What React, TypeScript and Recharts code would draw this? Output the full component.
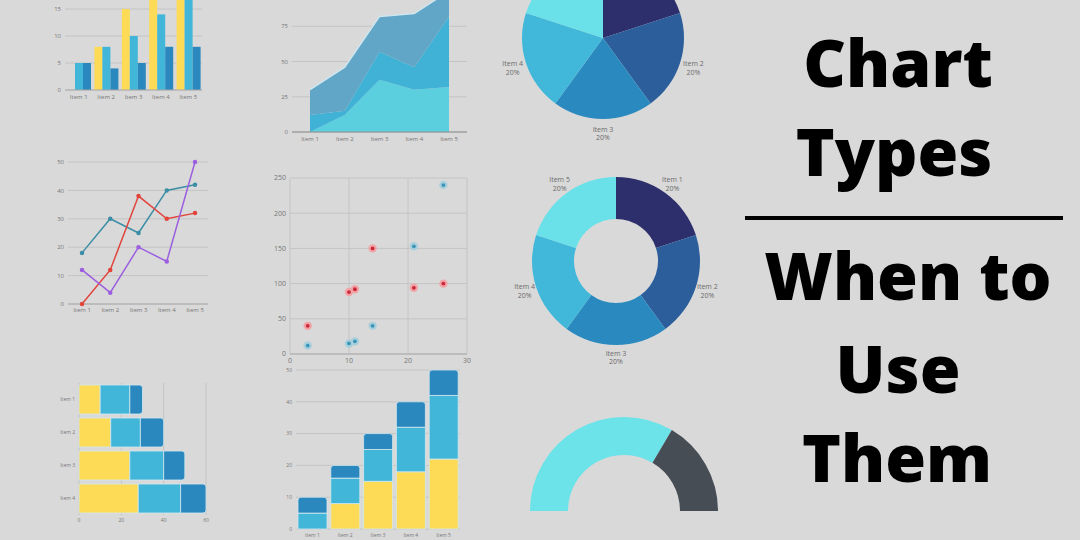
import {
  Area,
  AreaChart,
  Bar,
  BarChart,
  CartesianGrid,
  Cell,
  Line,
  LineChart,
  Pie,
  PieChart,
  Scatter,
  ScatterChart,
  XAxis,
  YAxis,
} from "recharts";

// shared categories
const items = ["Item 1", "Item 2", "Item 3", "Item 4", "Item 5"];

// grouped / stacked column values (same numbers in both column charts)
const yellowVals = [0, 8, 15, 18, 22];
const cyanVals = [5, 8, 10, 14, 20];
const blueVals = [5, 4, 5, 8, 8];

// stacked area layers
const areaLow = [0, 12, 37, 30, 32];
const areaMid = [12, 3, 20, 16, 50];
const areaTop = [18, 31, 25, 38, 18];

// line series
const tealLine = [18, 30, 25, 40, 42];
const redLine = [0, 12, 38, 30, 32];
const purpleLine = [12, 4, 20, 15, 50];

// scatter points
const scatterX = [3, 10, 11, 14, 21, 26];
const redY = [40, 88, 92, 150, 94, 100];
const tealY = [12, 15, 18, 40, 153, 240];

// horizontal stacked bars
const barItems = ["Item 1", "Item 2", "Item 3", "Item 4"];
const hYellow = [10, 15, 24, 28];
const hCyan = [14, 14, 16, 20];
const hBlue = [6, 11, 10, 12];

// pie / donut / gauge
const sliceShares = [20, 20, 20, 20, 20];
const gaugeVals = [67, 33];

const YELLOW = "#fddb56";
const CYAN = "#41b6d9";
const BLUE = "#2b88be";
const sliceColors = ["#2d2f6c", "#2b5e9b", "#2a8abf", "#41b8da", "#6ae0e9"];
const gaugeColors = ["#6ce2e9", "#474d55"];
const GRID = "#c4c4c4";
const AXIS = "#a9a9a9";
const tickStyle = { fontSize: 6, fill: "#777", fontFamily: "Open Sans" };
const pieMargin = { top: 0, right: 0, bottom: 0, left: 0 };

const columnData = items.map((name, i) => ({
  name,
  yellow: yellowVals[i],
  cyan: cyanVals[i],
  blue: blueVals[i],
}));
const areaData = items.map((name, i) => ({
  name,
  low: areaLow[i],
  mid: areaMid[i],
  top: areaTop[i],
}));
const lineData = items.map((name, i) => ({
  name,
  teal: tealLine[i],
  red: redLine[i],
  purple: purpleLine[i],
}));
const redPoints = scatterX.map((x, i) => ({ x, y: redY[i] }));
const tealPoints = scatterX.map((x, i) => ({ x, y: tealY[i] }));
const hBarData = barItems.map((name, i) => ({
  name,
  yellow: hYellow[i],
  cyan: hCyan[i],
  blue: hBlue[i],
}));
const sliceData = items.map((name, i) => ({ name, value: sliceShares[i] }));
const gaugeData = gaugeVals.map((value, i) => ({ name: `g${i}`, value }));

const sliceLabel = (gap: number) => (p: any) => {
  const rad = Math.PI / 180;
  const r = p.outerRadius + gap;
  const x = p.cx + r * Math.cos(-p.midAngle * rad);
  const y = p.cy + r * Math.sin(-p.midAngle * rad);
  return (
    <text x={x} y={y} textAnchor="middle" fontSize={7} fill="#6b6b6b" fontFamily="Open Sans">
      <tspan x={x} dy="-0.2em">{p.name}</tspan>
      <tspan x={x} dy="1.25em">{`${Math.round(p.percent * 100)}%`}</tspan>
    </text>
  );
};

const haloDot = (fill: string, halo: string) => (p: any) => (
  <g>
    <circle cx={p.cx} cy={p.cy} r={4.2} fill={halo} />
    <circle cx={p.cx} cy={p.cy} r={1.9} fill={fill} />
  </g>
);

const box = (left: number, top: number, width: number, height: number) =>
  ({ position: "absolute", left, top, width, height }) as const;

export default function App() {
  return (
    <div
      style={{
        position: "fixed",
        left: 0,
        top: 0,
        width: 1080,
        height: 540,
        background: "#d9d9d9",
        overflow: "hidden",
      }}
    >
      {/* grouped columns */}
      <div style={box(20, -28, 190, 135)}>
        <BarChart width={190} height={135} data={columnData} margin={{ top: 10, right: 8, bottom: 0, left: 0 }} barGap={0} barSize={8}>
          <CartesianGrid vertical={false} stroke={GRID} />
          <XAxis dataKey="name" height={17} tick={tickStyle} tickLine={false} tickSize={3} axisLine={{ stroke: AXIS }} interval={0} />
          <YAxis width={45} domain={[0, 20]} ticks={[0, 5, 10, 15, 20]} allowDataOverflow tick={tickStyle} tickLine={false} axisLine={false} tickSize={2} />
          <Bar dataKey="yellow" fill={YELLOW} isAnimationActive={false} />
          <Bar dataKey="cyan" fill={CYAN} isAnimationActive={false} />
          <Bar dataKey="blue" fill={BLUE} isAnimationActive={false} />
        </BarChart>
      </div>

      {/* stacked area */}
      <div style={box(250, -19, 225, 169)}>
        <AreaChart width={225} height={169} data={areaData} margin={{ top: 10, right: 8, bottom: 0, left: 0 }}>
          <CartesianGrid vertical={false} stroke={GRID} />
          <XAxis dataKey="name" height={18} padding={{ left: 18, right: 18 }} tick={tickStyle} tickLine={false} tickSize={3} axisLine={{ stroke: "#8c8c8c" }} interval={0} />
          <YAxis width={42} domain={[0, 100]} ticks={[0, 25, 50, 75, 100]} tick={tickStyle} tickLine={false} axisLine={false} tickSize={2} />
          <Area type="linear" dataKey="low" stackId="s" fill="#5ccfdf" stroke="none" fillOpacity={1} isAnimationActive={false} />
          <Area type="linear" dataKey="mid" stackId="s" fill="#3fb2d6" stroke="none" fillOpacity={1} isAnimationActive={false} />
          <Area type="linear" dataKey="top" stackId="s" fill="#62a6c7" stroke="#cfe6ef" strokeWidth={1.5} fillOpacity={1} isAnimationActive={false} />
        </AreaChart>
      </div>

      {/* pie */}
      <div style={box(480, -62, 260, 215)}>
        <PieChart width={260} height={215} margin={pieMargin}>
          <Pie data={sliceData} dataKey="value" nameKey="name" cx={123} cy={100} outerRadius={81} startAngle={90} endAngle={-270} stroke="none" label={sliceLabel(14)} labelLine={false} isAnimationActive={false}>
            {sliceData.map((d, i) => (
              <Cell key={d.name} fill={sliceColors[i]} />
            ))}
          </Pie>
        </PieChart>
      </div>

      {/* lines */}
      <div style={box(20, 150, 196, 170)}>
        <LineChart width={196} height={170} data={lineData} margin={{ top: 12, right: 8, bottom: 0, left: 0 }}>
          <CartesianGrid vertical={false} stroke={GRID} />
          <XAxis dataKey="name" height={16} padding={{ left: 14, right: 13 }} tick={tickStyle} tickLine={false} tickSize={2} axisLine={{ stroke: AXIS }} interval={0} />
          <YAxis width={48} domain={[0, 50]} ticks={[0, 10, 20, 30, 40, 50]} tick={tickStyle} tickLine={false} axisLine={false} tickSize={2} />
          <Line type="linear" dataKey="teal" stroke="#3b8ea5" strokeWidth={1.5} dot={{ r: 1.5, fill: "#3b8ea5", stroke: "#3b8ea5" }} isAnimationActive={false} />
          <Line type="linear" dataKey="red" stroke="#e2443c" strokeWidth={1.5} dot={{ r: 1.5, fill: "#e2443c", stroke: "#e2443c" }} isAnimationActive={false} />
          <Line type="linear" dataKey="purple" stroke="#9b5fe0" strokeWidth={1.5} dot={{ r: 1.5, fill: "#9b5fe0", stroke: "#9b5fe0" }} isAnimationActive={false} />
        </LineChart>
      </div>

      {/* scatter */}
      <div style={box(240, 168, 235, 202)}>
        <ScatterChart width={235} height={202} margin={{ top: 10, right: 8, bottom: 0, left: 0 }}>
          <CartesianGrid stroke={GRID} />
          <XAxis type="number" dataKey="x" domain={[0, 30]} ticks={[0, 10, 20, 30]} height={16} tick={{ ...tickStyle, fontSize: 7 }} tickLine={false} tickSize={2} axisLine={{ stroke: AXIS }} />
          <YAxis type="number" dataKey="y" domain={[0, 250]} ticks={[0, 50, 100, 150, 200, 250]} width={50} tick={{ ...tickStyle, fontSize: 7 }} tickLine={false} axisLine={false} tickSize={2} />
          <Scatter data={tealPoints} shape={haloDot("#3a96b8", "#a9cfdc")} isAnimationActive={false} />
          <Scatter data={redPoints} shape={haloDot("#c8283a", "#f2a3a6")} isAnimationActive={false} />
        </ScatterChart>
      </div>

      {/* donut */}
      <div style={box(480, 160, 260, 215)}>
        <PieChart width={260} height={215} margin={pieMargin}>
          <Pie data={sliceData} dataKey="value" nameKey="name" cx={136} cy={101} innerRadius={42} outerRadius={84} startAngle={90} endAngle={-270} stroke="none" label={sliceLabel(12)} labelLine={false} isAnimationActive={false}>
            {sliceData.map((d, i) => (
              <Cell key={d.name} fill={sliceColors[i]} />
            ))}
          </Pie>
        </PieChart>
      </div>

      {/* horizontal stacked bars */}
      <div style={box(10, 373, 205, 158)}>
        <BarChart layout="vertical" width={205} height={158} data={hBarData} margin={{ top: 10, right: 9, bottom: 0, left: 0 }} barSize={29}>
          <CartesianGrid horizontal={false} stroke={GRID} />
          <XAxis type="number" domain={[0, 60]} ticks={[0, 20, 40, 60]} height={16} tick={{ ...tickStyle, fontSize: 5 }} tickLine={false} tickSize={1} axisLine={false} />
          <YAxis type="category" dataKey="name" width={69} tick={{ ...tickStyle, fontSize: 5 }} tickLine={false} tickSize={2} axisLine={false} />
          <Bar dataKey="yellow" stackId="h" fill={YELLOW} stroke="#d3e8ef" strokeWidth={0.8} isAnimationActive={false} />
          <Bar dataKey="cyan" stackId="h" fill={CYAN} stroke="#d3e8ef" strokeWidth={0.8} isAnimationActive={false} />
          <Bar dataKey="blue" stackId="h" fill={BLUE} stroke="#d3e8ef" strokeWidth={0.8} radius={[0, 3, 3, 0]} isAnimationActive={false} />
        </BarChart>
      </div>

      {/* stacked columns */}
      <div style={box(245, 360, 223, 181)}>
        <BarChart width={223} height={181} data={columnData} margin={{ top: 10, right: 8, bottom: 0, left: 0 }} barSize={29}>
          <CartesianGrid vertical={false} stroke={GRID} />
          <XAxis dataKey="name" height={12} tick={{ ...tickStyle, fontSize: 5 }} tickLine={false} tickSize={2} axisLine={false} interval={0} />
          <YAxis width={51} domain={[0, 50]} ticks={[0, 10, 20, 30, 40, 50]} tick={{ ...tickStyle, fontSize: 5 }} tickLine={false} axisLine={false} tickSize={2} />
          <Bar dataKey="yellow" stackId="v" fill={YELLOW} stroke="#d3e8ef" strokeWidth={0.8} isAnimationActive={false} />
          <Bar dataKey="cyan" stackId="v" fill={CYAN} stroke="#d3e8ef" strokeWidth={0.8} isAnimationActive={false} />
          <Bar dataKey="blue" stackId="v" fill={BLUE} stroke="#d3e8ef" strokeWidth={0.8} radius={[3, 3, 0, 0]} isAnimationActive={false} />
        </BarChart>
      </div>

      {/* gauge */}
      <div style={box(510, 400, 230, 130)}>
        <PieChart width={230} height={130} margin={pieMargin}>
          <Pie data={gaugeData} dataKey="value" cx={114} cy={111} innerRadius={56} outerRadius={94} startAngle={180} endAngle={0} stroke="none" isAnimationActive={false}>
            {gaugeData.map((d, i) => (
              <Cell key={d.name} fill={gaugeColors[i]} />
            ))}
          </Pie>
        </PieChart>
      </div>

      {/* title */}
      <svg style={box(740, 0, 340, 540)} width={340} height={540}>
        <g fontFamily="Open Sans" fontWeight={800} fontSize={66} fill="#000" textAnchor="middle">
          <text x={158} y={87}>Chart</text>
          <text x={154} y={176}>Types</text>
          <text x={168} y={300}>When to</text>
          <text x={158} y={393}>Use</text>
          <text x={157} y={482}>Them</text>
        </g>
        <rect x={5} y={216} width={318} height={4} fill="#000" />
      </svg>
    </div>
  );
}
